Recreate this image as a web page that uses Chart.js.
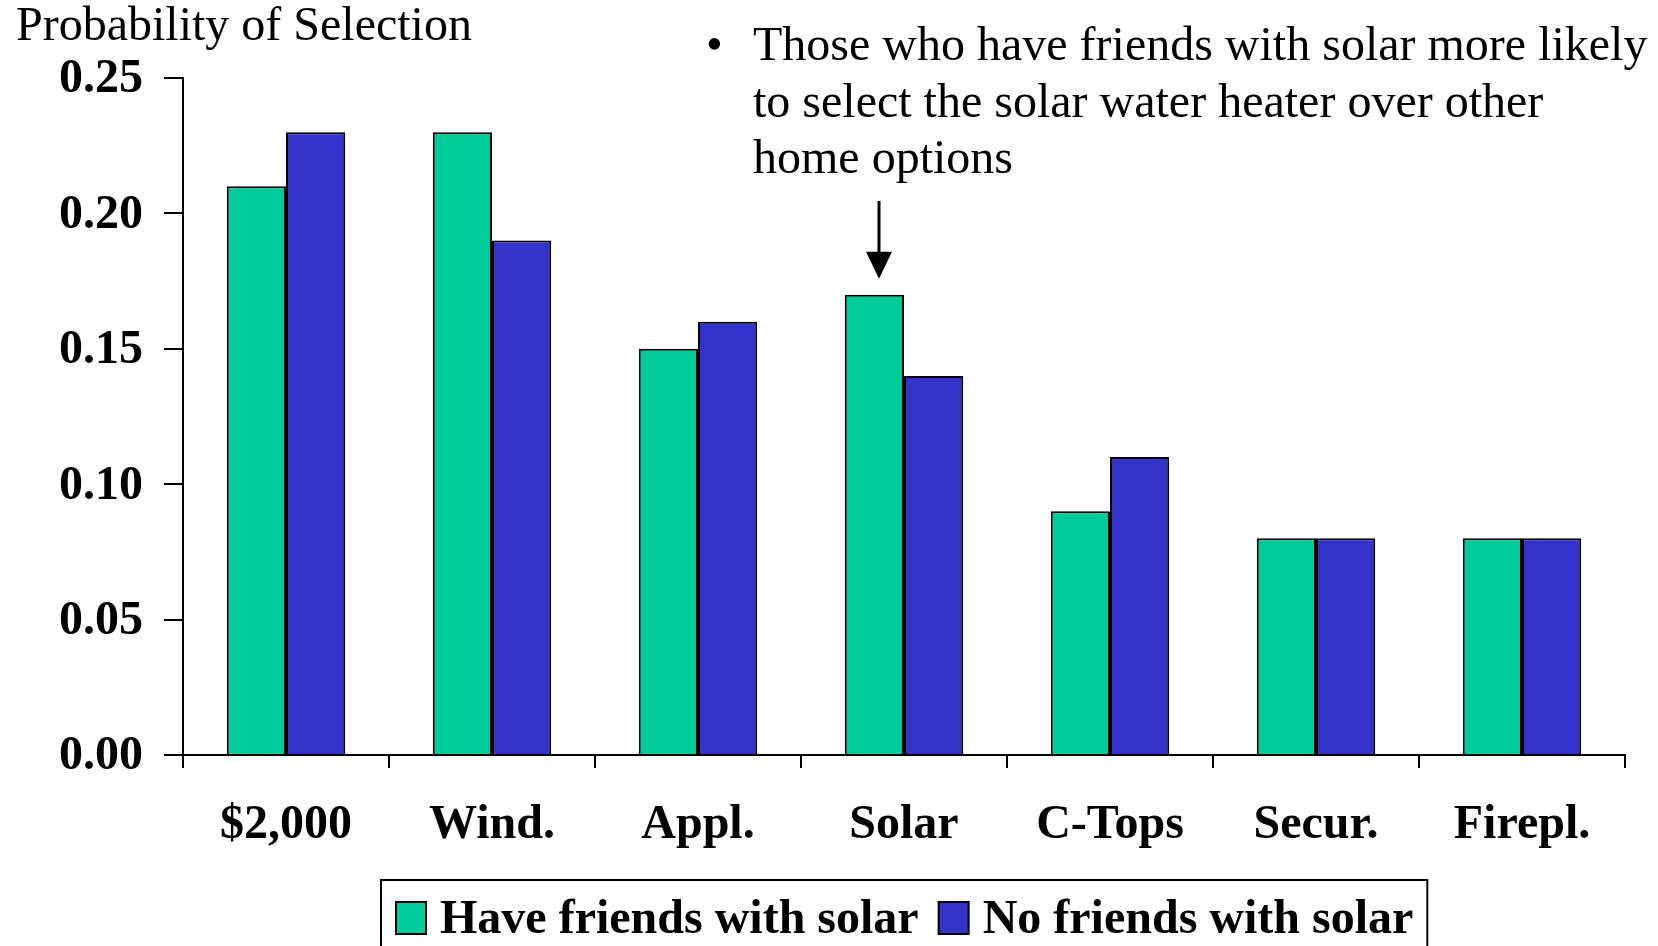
<!DOCTYPE html>
<html>
<head>
<meta charset="utf-8">
<title>Probability of Selection</title>
<script src="https://cdn.jsdelivr.net/npm/chart.js@4.4.1/dist/chart.umd.min.js"></script>
<style>
  html, body { margin: 0; padding: 0; background: #fff; }
  #wrap { width: 1658px; height: 946px; }
</style>
</head>
<body>
<div id="wrap"><canvas id="chart" width="1658" height="946"></canvas></div>
<script>
const categories = ["$2,000", "Wind.", "Appl.", "Solar", "C-Tops", "Secur.", "Firepl."];
const haveFriends = [0.21, 0.23, 0.15, 0.17, 0.09, 0.08, 0.08];
const noFriends = [0.23, 0.19, 0.16, 0.14, 0.11, 0.08, 0.08];
const seriesNames = ["Have friends with solar", "No friends with solar"];
const seriesColors = ["#00cc99", "#3333cc"];
const yTicks = [0, 0.05, 0.10, 0.15, 0.20, 0.25];
const axisTitle = "Probability of Selection";
const noteLines = [
  "Those who have friends with solar more likely",
  "to select the solar water heater over other",
  "home options"
];
const noteTarget = 3; // arrow points at the Solar bar

const serif = '"Liberation Serif", "Times New Roman", serif';

// title, note, arrow and the boxed legend
const overlay = {
  id: "overlay",
  afterDraw(chart) {
    const ctx = chart.ctx;
    ctx.save();
    ctx.fillStyle = "#000";
    ctx.strokeStyle = "#000";
    ctx.textBaseline = "alphabetic";
    ctx.textAlign = "left";

    ctx.font = `48px ${serif}`;
    ctx.fillText(axisTitle, 16, 40);
    ctx.fillText("\u2022", 706, 60);
    noteLines.forEach((line, i) => ctx.fillText(line, 753, 60 + i * 56.5));

    const bar = chart.getDatasetMeta(0).data[noteTarget];
    const ax = Math.round(bar.x + 5);
    const tip = bar.y - 16;
    ctx.lineWidth = 3;
    ctx.beginPath();
    ctx.moveTo(ax, 201);
    ctx.lineTo(ax, tip - 20);
    ctx.stroke();
    ctx.beginPath();
    ctx.moveTo(ax - 13, tip - 27);
    ctx.lineTo(ax + 13, tip - 27);
    ctx.lineTo(ax, tip);
    ctx.closePath();
    ctx.fill();

    ctx.font = `bold 48px ${serif}`;
    ctx.lineWidth = 2;
    let x = 396;
    chart.data.datasets.forEach(ds => {
      ctx.fillStyle = ds.backgroundColor;
      ctx.fillRect(x, 902, 30, 32);
      ctx.strokeRect(x, 902, 30, 32);
      ctx.fillStyle = "#000";
      ctx.fillText(ds.label, x + 44, 933);
      x += 44 + ctx.measureText(ds.label).width + 20;
    });
    ctx.strokeRect(381, 880, x - 20 + 14 - 381, 90);
    ctx.restore();
  }
};

new Chart(document.getElementById("chart"), {
  type: "bar",
  data: {
    labels: categories,
    datasets: [
      { label: seriesNames[0], data: haveFriends, backgroundColor: seriesColors[0] },
      { label: seriesNames[1], data: noFriends, backgroundColor: seriesColors[1] }
    ]
  },
  options: {
    responsive: false,
    devicePixelRatio: 1,
    animation: false,
    layout: { padding: { top: 78, right: 33, left: 0, bottom: 0 } },
    datasets: {
      bar: {
        borderColor: "#000",
        borderWidth: 2,
        barPercentage: 1,
        categoryPercentage: 0.575
      }
    },
    plugins: {
      legend: { display: false },
      tooltip: { enabled: false }
    },
    scales: {
      x: {
        afterFit: s => { s.height = 191; },
        grid: {
          offset: true,
          drawOnChartArea: false,
          drawTicks: true,
          tickLength: 13,
          color: "#000",
          lineWidth: 2
        },
        border: { display: true, color: "#000", width: 2 },
        ticks: {
          color: "#000",
          padding: 29,
          font: { family: serif, size: 48, weight: "bold" }
        }
      },
      y: {
        min: 0,
        max: 0.25,
        afterFit: s => { s.width = 183; },
        afterBuildTicks: s => { s.ticks = yTicks.map(v => ({ value: v })); },
        grid: {
          drawOnChartArea: false,
          drawTicks: true,
          tickLength: 19,
          color: "#000",
          lineWidth: 2
        },
        border: { display: true, color: "#000", width: 2 },
        ticks: {
          color: "#000",
          padding: 21,
          labelOffset: 2,
          font: { family: serif, size: 48, weight: "bold" },
          callback: v => Number(v).toFixed(2)
        }
      }
    }
  },
  plugins: [overlay]
});
</script>
</body>
</html>
